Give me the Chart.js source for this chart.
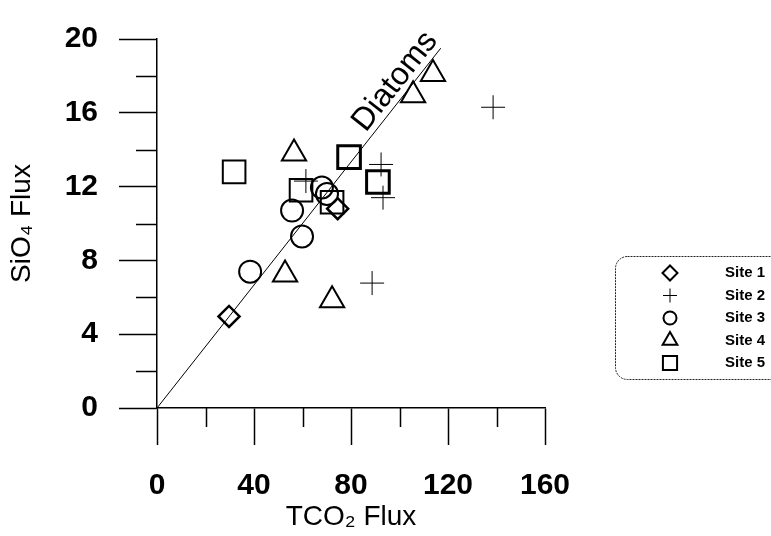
<!DOCTYPE html>
<html>
<head>
<meta charset="utf-8">
<script src="https://cdn.jsdelivr.net/npm/chart.js@4/dist/chart.umd.min.js"></script>
<style>
  html, body { margin: 0; padding: 0; background: #fff; }
  #wrap { width: 771px; height: 536px; }
</style>
</head>
<body>
<div id="wrap"><canvas id="c" width="771" height="536"></canvas></div>
<script>
// ---- data ----
const siteLabels = ['Site 1', 'Site 2', 'Site 3', 'Site 4', 'Site 5'];
const site1X = [29.7, 74.5];
const site1Y = [4.96, 10.8];
const site2X = [138.6, 92.4, 93.2, 88.7, 61.4];
const site2Y = [16.3, 13.2, 11.4, 6.77, 12.3];
const site3X = [38.4, 55.7, 59.8, 68.0, 70.1];
const site3Y = [7.39, 10.7, 9.3, 11.95, 11.6];
const site4X = [113.8, 105.6, 56.5, 52.8, 72.2];
const site4Y = [18.1, 16.95, 13.8, 7.23, 5.84];
const site5X = [31.8, 79.2, 91.1, 59.4, 72.2];
const site5Y = [12.8, 13.6, 12.25, 11.8, 11.15];
const diatomX = [0, 117];
const diatomY = [0, 19.5];
const diatomLabel = 'Diatoms';
const diatomLabelAt = [103, 17.2];
const xMinorTicks = [20, 60, 100, 140];
const yMinorTicks = [2, 6, 10, 14, 18];
const xTitle = 'TCO\u2082 Flux';
const yTitle = 'SiO\u2084 Flux';

const FONT = "'Liberation Sans', Arial, 'DejaVu Sans', sans-serif";
const pts = (xs, ys) => xs.map((x, i) => ({ x: x, y: ys[i] }));

const siteStyles = [
  { pointStyle: 'rectRot', radius: 10.5, bw: 2.5, lr: 7.5 },
  { pointStyle: 'cross', radius: 12, bw: 1, lr: 7 },
  { pointStyle: 'circle', radius: 11, bw: 2, lr: 6.5 },
  { pointStyle: 'triangle', radius: 14, bw: 2, lr: 8.5 },
  { pointStyle: 'rect', radius: 16, bw: [2, 3, 3, 2, 2], lr: 10 }
];
const siteData = [
  pts(site1X, site1Y), pts(site2X, site2Y), pts(site3X, site3Y),
  pts(site4X, site4Y), pts(site5X, site5Y)
];

const datasets = [{
  type: 'line',
  label: 'Diatoms',
  data: pts(diatomX, diatomY),
  borderColor: '#000',
  borderWidth: 1,
  pointRadius: 0,
  fill: false,
  clip: false
}];
siteLabels.forEach((lab, i) => {
  const s = siteStyles[i];
  datasets.push({
    type: 'scatter',
    label: lab,
    isSite: true,
    data: siteData[i],
    pointStyle: s.pointStyle,
    pointRadius: s.radius,
    pointBorderWidth: s.bw,
    borderColor: '#000',
    pointBorderColor: '#000',
    backgroundColor: 'rgba(0,0,0,0)',
    pointBackgroundColor: 'rgba(0,0,0,0)',
    showLine: false,
    clip: false
  });
});

// minor ticks + diatom label + legend
const extrasPlugin = {
  id: 'extras',
  afterDraw(chart) {
    const ctx = chart.ctx;
    const xs = chart.scales.x, ys = chart.scales.y;
    const a = chart.chartArea;
    ctx.save();
    ctx.strokeStyle = '#000';
    ctx.lineWidth = 1.5;
    ctx.beginPath();
    xMinorTicks.forEach(v => {
      const px = Math.round(xs.getPixelForValue(v)) + 0.5;
      ctx.moveTo(px, a.bottom);
      ctx.lineTo(px, a.bottom + 19);
    });
    yMinorTicks.forEach(v => {
      const py = Math.round(ys.getPixelForValue(v)) + 0.5;
      ctx.moveTo(a.left, py);
      ctx.lineTo(a.left - 21, py);
    });
    ctx.stroke();

    // Diatoms label along the line
    const x0 = xs.getPixelForValue(diatomX[0]), y0 = ys.getPixelForValue(diatomY[0]);
    const x1 = xs.getPixelForValue(diatomX[1]), y1 = ys.getPixelForValue(diatomY[1]);
    const ang = Math.atan2(y1 - y0, x1 - x0);
    const lx = xs.getPixelForValue(diatomLabelAt[0]);
    const ly = ys.getPixelForValue(diatomLabelAt[1]);
    ctx.translate(lx, ly);
    ctx.rotate(ang);
    ctx.fillStyle = '#000';
    ctx.font = '32px ' + FONT;
    ctx.textAlign = 'center';
    ctx.textBaseline = 'alphabetic';
    ctx.fillText(diatomLabel, 0, -6);
    ctx.restore();

    // legend
    ctx.save();
    ctx.strokeStyle = '#222';
    ctx.lineWidth = 1;
    ctx.setLineDash([2, 1]);
    const bx = 615.5, by = 256.5, bw = 200, bh = 123, r = 12;
    ctx.beginPath();
    ctx.moveTo(bx + r, by);
    ctx.lineTo(bx + bw, by);
    ctx.lineTo(bx + bw, by + bh);
    ctx.lineTo(bx + r, by + bh);
    ctx.arcTo(bx, by + bh, bx, by + bh - r, r);
    ctx.lineTo(bx, by + r);
    ctx.arcTo(bx, by, bx + r, by, r);
    ctx.stroke();
    ctx.setLineDash([]);
    const sites = chart.data.datasets.filter(d => d.isSite);
    sites.forEach((ds, i) => {
      const cy = 273 + i * 22.5;
      const st = siteStyles[i];
      ctx.strokeStyle = '#000';
      ctx.fillStyle = 'rgba(0,0,0,0)';
      ctx.lineWidth = st.pointStyle === 'cross' ? 1 : 2;
      Chart.helpers.drawPoint(ctx, { pointStyle: st.pointStyle, radius: st.lr, borderWidth: ctx.lineWidth, rotation: 0 }, 670, cy);
      ctx.fillStyle = '#000';
      ctx.font = 'bold 15px ' + FONT;
      ctx.textAlign = 'left';
      ctx.textBaseline = 'middle';
      ctx.fillText(ds.label, 725, cy);
    });
    ctx.restore();
  }
};

new Chart(document.getElementById('c'), {
  data: { datasets: datasets },
  options: {
    responsive: false,
    animation: false,
    events: [],
    layout: { padding: { left: 0, top: 21, right: 226, bottom: 0 } },
    plugins: { legend: { display: false }, tooltip: { enabled: false } },
    scales: {
      x: {
        type: 'linear', position: 'bottom', min: 0, max: 160,
        afterFit: s => { s.height = 128; },
        ticks: { stepSize: 40, color: '#000', padding: 23, maxRotation: 0, font: { family: FONT, size: 30, weight: 'bold' } },
        grid: { drawOnChartArea: false, tickLength: 37, tickColor: '#000', tickWidth: 1.5 },
        border: { color: '#000', width: 1.5 },
        title: { display: true, text: xTitle, color: '#000', font: { family: FONT, size: 28 }, padding: { top: 0, bottom: 2 } }
      },
      y: {
        type: 'linear', position: 'left', min: 0, max: 20,
        afterFit: s => { s.width = 157; },
        ticks: { stepSize: 4, color: '#000', padding: 21, font: { family: FONT, size: 30, weight: 'bold' } },
        grid: { drawOnChartArea: false, tickLength: 38, tickColor: '#000', tickWidth: 1.5 },
        border: { color: '#000', width: 1.5 },
        title: { display: true, text: yTitle, color: '#000', font: { family: FONT, size: 28 }, padding: { top: 5, bottom: 0 } }
      }
    }
  },
  plugins: [extrasPlugin]
});
</script>
</body>
</html>
